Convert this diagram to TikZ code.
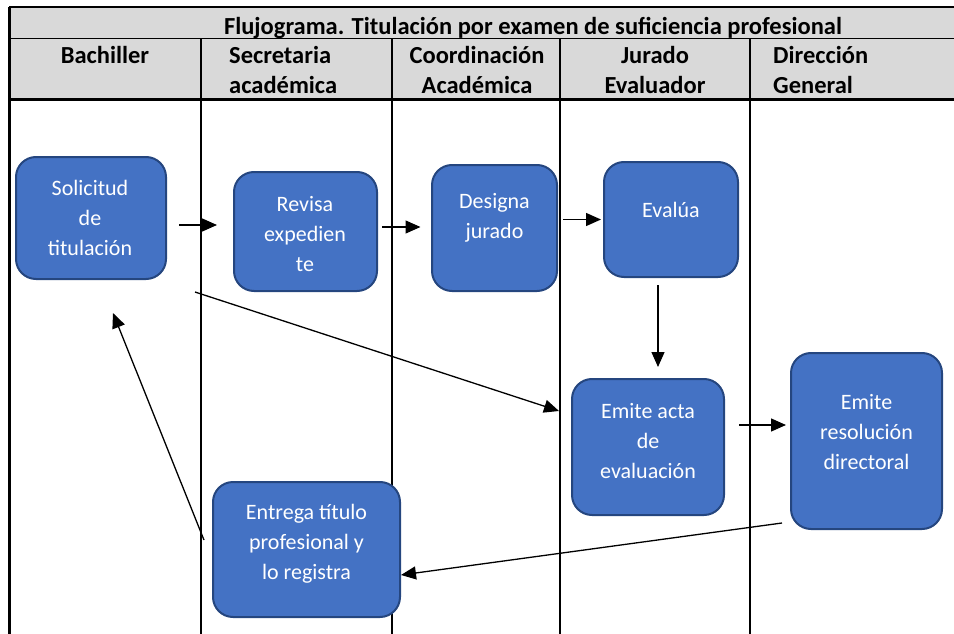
\documentclass[tikz,border=0pt]{standalone}
\usepackage{fontspec}
\setmainfont{Carlito}
\usetikzlibrary{arrows.meta}
\definecolor{boxfill}{HTML}{4472C4}
\definecolor{boxline}{HTML}{25467F}
\definecolor{hdr}{HTML}{D9D9D9}
\begin{document}
\begin{tikzpicture}[x=1pt,y=-1pt,
  box/.style={draw=boxline, fill=boxfill, line width=2pt, rounded corners=20pt, inner sep=0pt},
  txt/.style={text=white, align=center, font=\fontsize{22}{30}\selectfont, inner sep=0pt},
  hd/.style={font=\bfseries\fontsize{24.5}{30}\selectfont, inner sep=0pt},
  arr/.style={line width=1.3pt, -{Triangle[length=15pt,width=13pt]}}
]
\useasboundingbox (0,0) rectangle (954,634);
% table
\fill[hdr] (9,7) rectangle (954,100);
\draw[line width=2.5pt] (9,7) -- (954,7);
\draw[line width=1pt] (9,39) -- (954,39);
\draw[line width=3pt] (9,100) -- (954,100);
\draw[line width=3pt] (9,7) -- (9,634);
\draw[line width=1.2pt] (201,39) -- (201,634);
\draw[line width=2pt] (392,39) -- (392,634);
\draw[line width=2.2pt] (560,39) -- (560,634);
\draw[line width=1.8pt] (750,39) -- (750,634);
% headers
\node[hd, anchor=base] (title) at (533,35) {Flujograma. Titulación por examen de suficiencia profesional};
\node[hd, anchor=base] (h1) at (105,64) {Bachiller};
\node[hd, anchor=base west] (h2a) at (229,64) {Secretaria};
\node[hd, anchor=base west] (h2b) at (229,94) {académica};
\node[hd, anchor=base] (h3a) at (477,64) {Coordinación};
\node[hd, anchor=base] (h3b) at (477,94) {Académica};
\node[hd, anchor=base] (h4a) at (655,64) {Jurado};
\node[hd, anchor=base] (h4b) at (655,94) {Evaluador};
\node[hd, anchor=base west] (h5a) at (773,64) {Dirección};
\node[hd, anchor=base west] (h5b) at (773,94) {General};
% boxes
\node[box, minimum width=150pt, minimum height=122pt] (sol) at (91,218) {};
\node[box, minimum width=143pt, minimum height=119pt] (rev) at (305.5,231.5) {};
\node[box, minimum width=125pt, minimum height=126pt] (des) at (494.5,228) {};
\node[box, minimum width=134pt, minimum height=115pt] (eva) at (671,219.5) {};
\node[box, minimum width=152pt, minimum height=136pt] (act) at (648,447) {};
\node[box, minimum width=151pt, minimum height=176pt] (res) at (866.5,441) {};
\node[box, minimum width=187pt, minimum height=135pt] (ent) at (306.5,549.5) {};
% texts
\node[txt] (solt) at (90,218) {Solicitud\\de\\titulación};
\node[txt] (revt) at (305,234) {Revisa\\expedien\\te};
\node[txt] (dest) at (494.5,218) {Designa\\jurado};
\node[txt] (evat) at (671,210) {Evalúa};
\node[txt] (actt) at (648,441) {Emite acta\\de\\evaluación};
\node[txt] (rest) at (866.5,432) {Emite\\resolución\\directoral};
\node[txt] (entt) at (306.5,544) {Entrega título\\profesional y\\lo registra};
% connectors
\draw[arr] ([shift={(12,7)}]sol.east) -- ([shift={(-16,-6.5)}]rev.west);
\draw[arr] ([shift={(4,-4.5)}]rev.east) -- ([shift={(-10.5,-1)}]des.west);
\draw[arr] ([shift={(5,-8.5)}]des.east) -- ([shift={(-2,0)}]eva.west);
\draw[arr] ([shift={(-13,7)}]eva.south) -- ([shift={(10,-11)}]act.north);
\draw[arr] ([shift={(14,-22)}]act.east) -- ([shift={(-4,-16)}]res.west);
\draw[arr] ([shift={(-8,-7)}]res.south west) -- ([shift={(0,25.5)}]ent.east);
\draw[arr] ([shift={(-8,-9.5)}]ent.west) -- ([shift={(22,33)}]sol.south);
\draw[arr] ([shift={(28,12)}]sol.south east) -- ([shift={(-12,-36)}]act.west);
\end{tikzpicture}
\end{document}
